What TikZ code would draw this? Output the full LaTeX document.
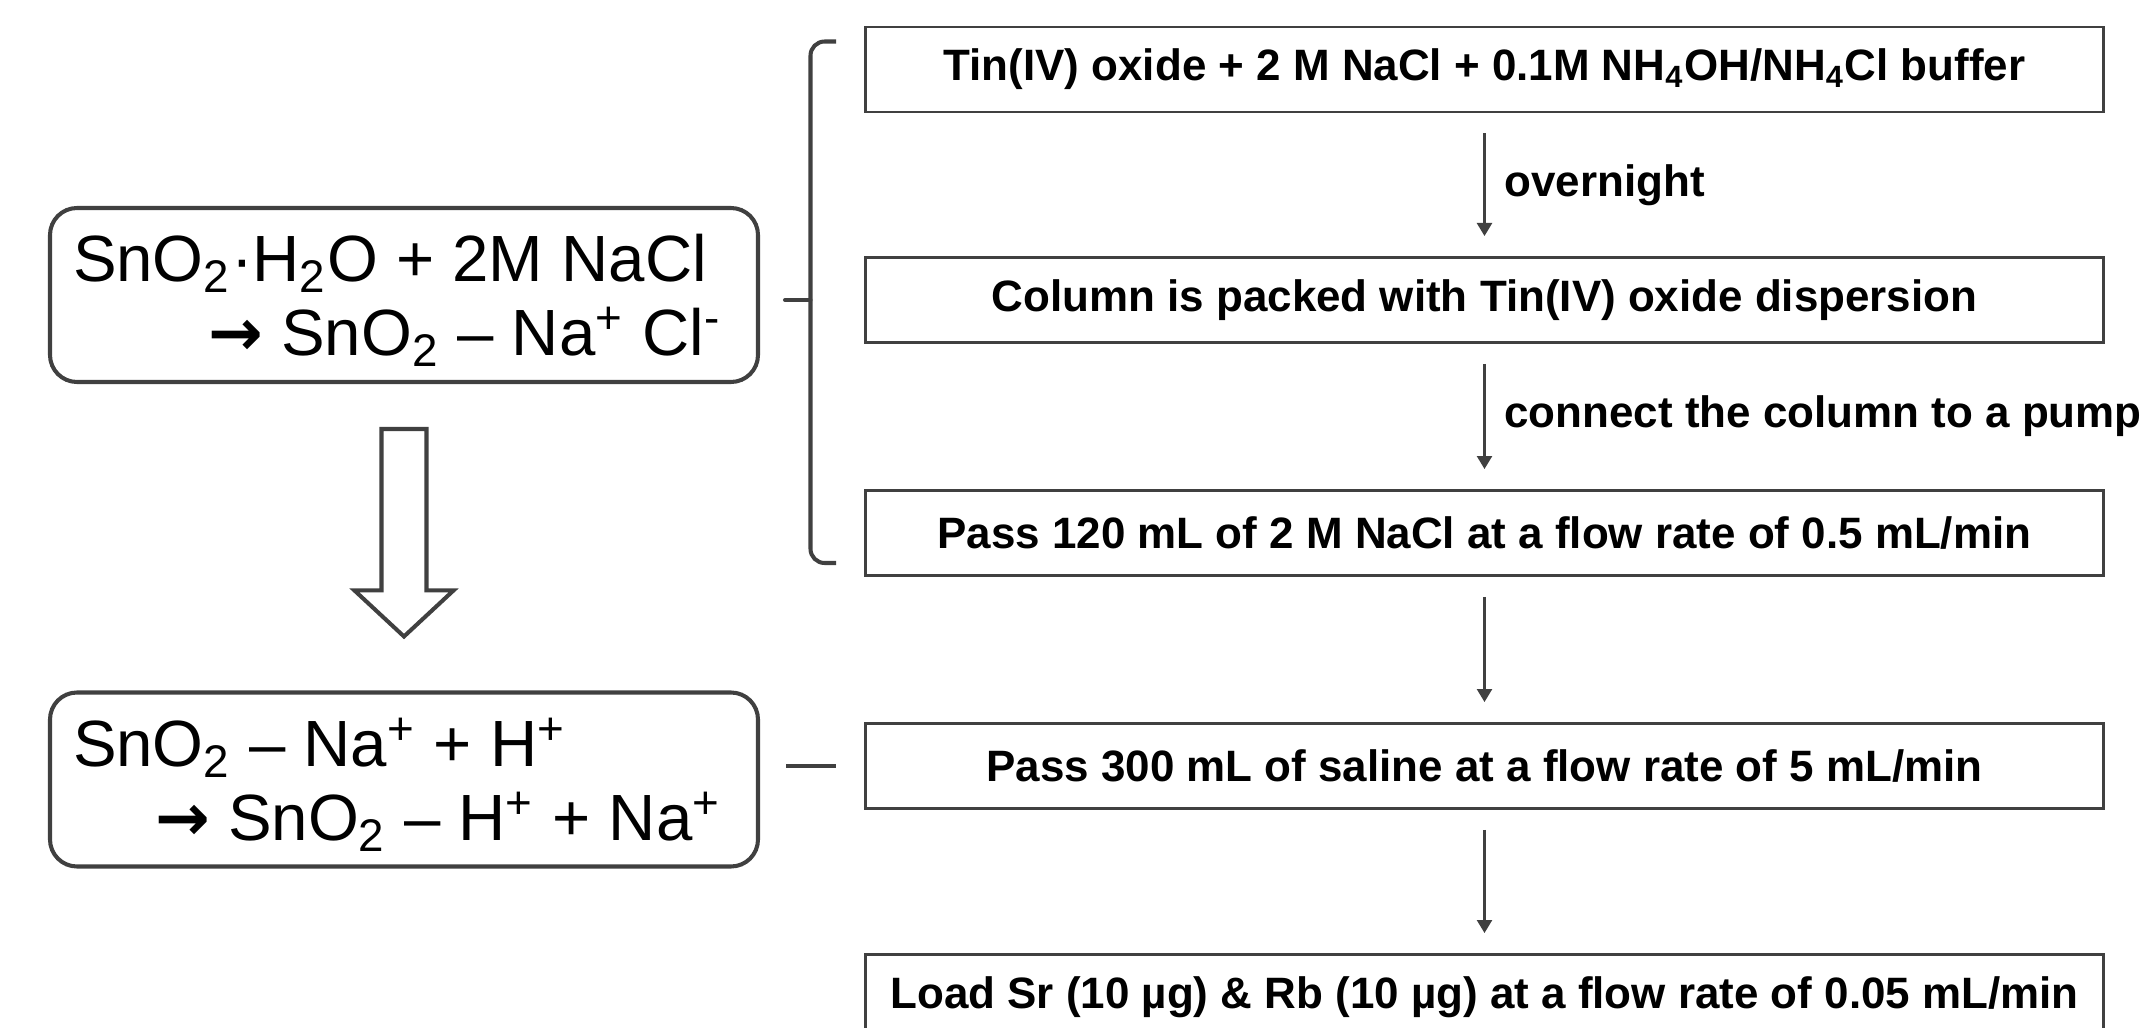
\documentclass[tikz,border=0pt]{standalone}
\usepackage{fontspec}
\setmainfont{Liberation Sans}
\newfontfamily\arrowfont{DejaVu Sans}
\usetikzlibrary{arrows.meta, positioning, calc}
\definecolor{ink}{HTML}{000000}
\definecolor{edge}{HTML}{404040}
\newcommand{\yields}{{\arrowfont\bfseries →}}
% reaction text: first line flush left, second flush right
\newcommand{\eqlines}[2]{\makebox[6.62cm][l]{#1}\\\makebox[6.48cm][r]{#2}}
\tikzset{
  font=\fontsize{12.5pt}{15pt}\selectfont,
  >={Triangle[length=3.7pt, width=4.3pt]},
  %
  stepbox/.style={
    draw=edge, line width=0.85pt, fill=white, inner sep=0pt,
    minimum width=12.38cm, minimum height=0.85cm, text=ink,
    font=\bfseries\fontsize{12.5pt}{15pt}\selectfont,
  },
  eqbox/.style={
    draw=edge, line width=1.15pt, rounded corners=0.27cm, fill=white,
    minimum width=7.08cm, minimum height=1.74cm, inner xsep=0.23cm,
    align=left, text depth=0pt, text=ink,
    font=\fontsize{18.6pt}{21pt}\selectfont,
  },
  %
  flow/.style={draw=edge, line width=0.6pt, ->,
               shorten <=0.2cm, shorten >=0.2cm},
  lbl/.style={font=\bfseries\fontsize{12.5pt}{15pt}\selectfont,
              text=ink, inner sep=0pt, anchor=west, xshift=0.19cm},
  bracket/.style={draw=edge, line width=1.15pt, rounded corners=4pt},
  hollow/.style={draw=edge, line width=1.15pt, fill=white, line join=miter},
}

\begin{document}
\begin{tikzpicture}[x=1cm, y=1cm]

  \useasboundingbox (0,0) rectangle (21.53,10.27);

  % column procedure
  \node[stepbox] (load)  at (14.845,9.575)
    {Tin(IV) oxide + 2 M NaCl + 0.1M NH\textsubscript{4}OH/NH\textsubscript{4}Cl buffer};
  \node[stepbox] (pack)  at (14.845,7.27)
    {Column is packed with Tin(IV) oxide dispersion};
  \node[stepbox] (nacl)  at (14.845,4.94)
    {Pass 120 mL of 2 M NaCl at a flow rate of 0.5 mL/min};
  \node[stepbox] (brine) at (14.845,2.61)
    {Pass 300 mL of saline at a flow rate of 5 mL/min};
  \node[stepbox] (srrb)  at (14.845,0.30)
    {Load Sr (10 µg) \& Rb (10 µg) at a flow rate of 0.05 mL/min};

  \draw[flow] (load.south) -- (pack.north)
    node[lbl, midway] {overnight};
  \draw[flow] (pack.south) -- (nacl.north)
    node[lbl, midway] {connect the column to a pump};
  \draw[flow] (nacl.south) -- (brine.north);
  \draw[flow] (brine.south) -- (srrb.north);

  % exchange reactions
  \node[eqbox] (naform) at (4.04,7.32)
    {\eqlines{SnO\textsubscript{2}·H\textsubscript{2}O + 2M NaCl}
             {\yields{} SnO\textsubscript{2} – Na\textsuperscript{+} Cl\textsuperscript{-}}};
  \node[eqbox] (hform) at (4.04,2.475)
    {\eqlines{SnO\textsubscript{2} – Na\textsuperscript{+} + H\textsuperscript{+}}
             {\yields{} SnO\textsubscript{2} – H\textsuperscript{+} + Na\textsuperscript{+}}};

  % block arrow between the reactions
  \coordinate (ftop) at ($(naform.south)+(0,-0.45)$);
  \coordinate (ftip) at ($(hform.north)+(0,0.54)$);
  \draw[hollow] ($(ftop)+(-0.225,0)$) -- ($(ftip)+(-0.225,0.46)$)
    -- ($(ftip)+(-0.495,0.46)$) -- (ftip) -- ($(ftip)+(0.495,0.46)$)
    -- ($(ftip)+(0.225,0.46)$) -- ($(ftop)+(0.225,0)$) -- cycle;

  % brace over the first three steps, tick at the saline step
  \draw[bracket] ($(load.north west)+(-0.28,-0.16)$)
    -| ($(pack.west)+(-0.535,0)$) |- ($(nacl.south west)+(-0.28,0.14)$);
  \draw[bracket, line cap=round] ($(pack.west)+(-0.535,0)$) -- ($(pack.west)+(-0.79,0)$);
  \draw[bracket] ($(brine.west)+(-0.78,0)$) -- ($(brine.west)+(-0.28,0)$);

\end{tikzpicture}
\end{document}
